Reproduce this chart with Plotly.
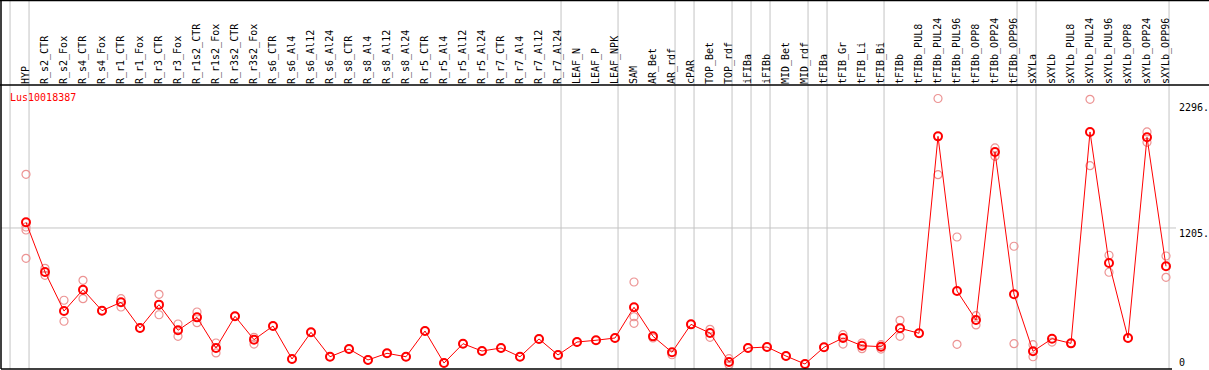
import plotly.graph_objects as go

categories = ["HYP", "R_s2_CTR", "R_s2_Fox", "R_s4_CTR", "R_s4_Fox", "R_r1_CTR", "R_r1_Fox",
              "R_r3_CTR", "R_r3_Fox", "R_r1s2_CTR", "R_r1s2_Fox", "R_r3s2_CTR", "R_r3s2_Fox",
              "R_s6_CTR", "R_s6_Al4", "R_s6_Al12", "R_s6_Al24", "R_s8_CTR", "R_s8_Al4", "R_s8_Al12",
              "R_s8_Al24", "R_r5_CTR", "R_r5_Al4", "R_r5_Al12", "R_r5_Al24", "R_r7_CTR", "R_r7_Al4",
              "R_r7_Al12", "R_r7_Al24", "LEAF_N", "LEAF_P", "LEAF_NPK", "SAM", "AR_Bet", "AR_rdf",
              "cPAR", "TOP_Bet", "TOP_rdf", "iFIBa", "iFIBb", "MID_Bet", "MID_rdf", "tFIBa",
              "tFIB_Gr", "tFIB_Li", "tFIB_Bi", "tFIBb", "tFIBb_PUL8", "tFIBb_PUL24", "tFIBb_PUL96",
              "tFIBb_OPP8", "tFIBb_OPP24", "tFIBb_OPP96", "sXYLa", "sXYLb", "sXYLb_PUL8",
              "sXYLb_PUL24", "sXYLb_PUL96", "sXYLb_OPP8", "sXYLb_OPP24", "sXYLb_OPP96"]

mean_values = [1253, 834, 505, 685, 508, 579, 362, 559, 343, 452, 194, 461, 264, 379, 101, 326,
               120, 185, 93, 149, 120, 337, 67, 230, 168, 194, 120, 270, 135, 244, 259, 278,
               537, 292, 158, 393, 320, 76, 194, 202, 126, 59, 200, 278, 213, 205, 360, 318,
               1977, 674, 430, 1845, 646, 166, 272, 233, 2014, 910, 278, 1969, 882]

replicates = [[1657, 1213, 1188, 949], [865, 806], [596, 419], [764, 609], [508], [609, 539], [362],
              [646, 474], [396, 292], [497, 407], [236, 152], [461], [284, 227], [379], [101], [326],
              [120], [185], [93], [149], [120], [337], [67], [230], [168], [194], [120], [270], [135],
              [244], [259], [278], [750, 457, 402], [278], [137], [393], [351, 284], [104, 53], [194],
              [202], [126], [59], [200], [306, 227], [236, 188], [222, 185], [427, 292], [318],
              [2296, 1654], [1129, 225], [466, 388], [1879, 1809], [1051, 230], [222, 120], [244],
              [233], [2289, 1730], [975, 832], [278], [2014, 1927], [969, 789]]

group_ends = [-1, 0, 28, 31, 34, 35, 37, 38, 39, 41, 42, 45, 52, 53, 60]
axis_labels = ["2296.", "1205.", "0"]
gene = "Lus10018387"

idx = list(range(len(categories)))
rep_x = [i for i, reps in enumerate(replicates) for _ in reps]
rep_y = [v for reps in replicates for v in reps]

W, H = 1209, 370
ML, MR, MT, MB = 1, 37, 85, 1
pw = W - ML - MR
ph = H - MT - MB

fig = go.Figure()
fig.add_trace(go.Scatter(x=rep_x, y=rep_y, mode="markers", hoverinfo="skip",
                         marker=dict(symbol="circle-open", size=8, color="#ec9494",
                                     line=dict(width=1.2, color="#ec9494"))))
fig.add_trace(go.Scatter(x=idx, y=mean_values, mode="lines+markers",
                         line=dict(color="#ff0000", width=1),
                         marker=dict(symbol="circle-open", size=8, color="#ff0000",
                                     line=dict(width=2, color="#ff0000"))))

mono = "DejaVu Sans Mono"
shapes = []
top_paper = (ph + MT - 0.5) / ph
for g in group_ends:
    shapes.append(dict(type="line", xref="x", yref="paper", x0=g + 0.16, x1=g + 0.16,
                       y0=0, y1=top_paper, line=dict(color="#c4c4c4", width=1), layer="below"))
shapes.append(dict(type="line", xref="paper", yref="y", x0=0, x1=(1176 - ML) / pw,
                   y0=1205, y1=1205, line=dict(color="#c4c4c4", width=1), layer="below"))
xr = (W - ML) / pw
xl = -ML / pw
shapes += [
    dict(type="line", xref="paper", yref="paper", x0=xl, x1=xr, y0=top_paper, y1=top_paper,
         line=dict(color="black", width=1.5)),
    dict(type="line", xref="paper", yref="paper", x0=xl, x1=xr, y0=1, y1=1,
         line=dict(color="black", width=1.5)),
    dict(type="line", xref="paper", yref="paper", x0=0, x1=0, y0=0, y1=top_paper,
         line=dict(color="black", width=1.5)),
    dict(type="line", xref="paper", yref="paper", x0=0, x1=1, y0=0, y1=0,
         line=dict(color="black", width=1.5)),
]

label_pix = [107, 233, 362]
annotations = [dict(text=t, xref="paper", yref="paper", x=(1177 - ML) / pw, xanchor="left",
                    y=(H - MB - p) / ph, yanchor="middle", showarrow=False,
                    font=dict(family=mono, size=10, color="black"))
               for t, p in zip(axis_labels, label_pix)]
annotations.append(dict(text=gene, xref="paper", yref="paper", x=(8 - ML) / pw, xanchor="left",
                        y=(H - MB - 97) / ph, yanchor="middle", showarrow=False,
                        font=dict(family=mono, size=10, color="#ff0000")))

x_lo = (ML - 26) / 19
x_hi = (ML + pw - 26) / 19
k = 8.425
y_lo = (371 - (H - MB)) * k
y_hi = (371 - MT) * k

fig.update_layout(
    width=W, height=H, margin=dict(l=ML, r=MR, t=MT, b=MB, pad=0),
    paper_bgcolor="white", plot_bgcolor="white", showlegend=False,
    shapes=shapes, annotations=annotations,
    xaxis=dict(range=[x_lo, x_hi], side="top", tickmode="array", tickvals=idx,
               ticktext=categories, tickangle=-90, ticks="", showgrid=False, zeroline=False,
               showline=False, tickfont=dict(family=mono, size=10, color="black"),
               fixedrange=True),
    yaxis=dict(range=[y_lo, y_hi], showticklabels=False, showgrid=False, zeroline=False,
               showline=False, ticks="", fixedrange=True),
)

fig.write_html("out.html", config={"displayModeBar": False},
               post_script="document.body.style.margin='0';document.body.style.overflow='hidden';")
